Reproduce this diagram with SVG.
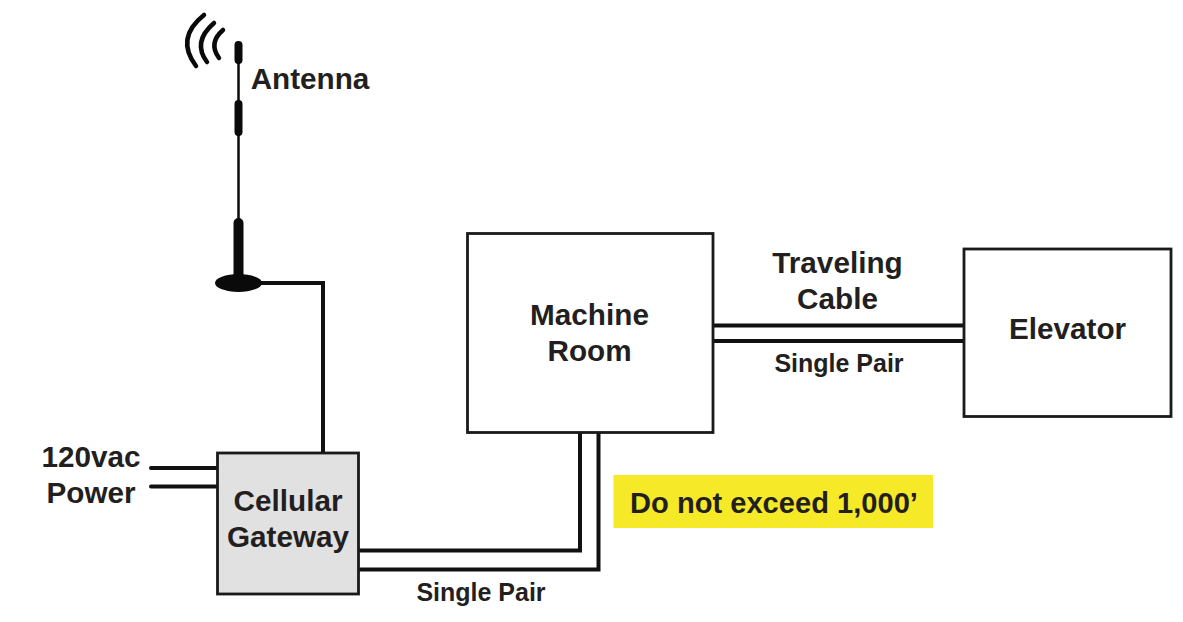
<svg xmlns="http://www.w3.org/2000/svg" width="1183" height="622" viewBox="0 0 1183 622">
<style>
text{font-family:"Liberation Sans",Arial,sans-serif;font-weight:700;fill:#231f20;text-anchor:middle}
.l{font-size:29.7px}
.n{font-size:29.1px}
.s{font-size:25px}
.box{fill:#fff;stroke:#1a1a1a;stroke-width:2.800}
.w{fill:none;stroke:#111;stroke-width:4;stroke-linejoin:miter}
.a{fill:none;stroke:#0a0a0a;stroke-linecap:round}
</style>
<rect width="1183" height="622" fill="#fff"/>
<g id="connectors">
<path class="w" d="M238 283H323V453"/>
<path class="w" stroke-linecap="round" d="M151 468H217M151 486.500H217"/>
<path class="w" d="M358 550.500H580V432M358 569.500H598.500V432"/>
<path class="w" d="M713 325.500H964M713 341H964"/>
</g>
<g id="antenna">
<path class="a" stroke-width="2.500" d="M238.500 50V240"/>
<path class="a" stroke-width="8" d="M238.500 45V60M238.500 104V132"/>
<path class="a" stroke-width="10" d="M238.500 223V280"/>
<ellipse cx="238.500" cy="283" rx="23.500" ry="9" fill="#0a0a0a"/>
<path class="a" stroke-width="4.500" d="M204 15Q175 38 196 66M214 23Q192 42 207 62M223 30Q208 43 219 58"/>
<text class="l" x="310" y="88.500">Antenna</text>
</g>
<g id="machine-room">
<rect class="box" x="467.500" y="233.500" width="245.500" height="199"/>
<text class="l" x="589.500" y="325">Machine</text>
<text class="l" x="589.500" y="361">Room</text>
</g>
<g id="elevator">
<rect class="box" x="964" y="249" width="207" height="167.500"/>
<text class="l" x="1067.500" y="339">Elevator</text>
</g>
<g id="gateway">
<rect x="217.500" y="453" width="141" height="141" fill="#e1e1e1" stroke="#1a1a1a" stroke-width="2.800"/>
<text class="l" x="288" y="511">Cellular</text>
<text class="l" x="288" y="547">Gateway</text>
</g>
<g id="power">
<text class="l" x="91" y="467">120vac</text>
<text class="l" x="91" y="503">Power</text>
</g>
<g id="labels">
<text class="l" x="837.500" y="273">Traveling</text>
<text class="l" x="837.500" y="308.500">Cable</text>
<text class="s" x="839" y="372">Single Pair</text>
<text class="s" x="481" y="601">Single Pair</text>
</g>
<g id="warning">
<rect x="613.500" y="475" width="319.500" height="53" fill="#f6e927"/>
<text class="n" x="774" y="513">Do not exceed 1,000’</text>
</g>
</svg>
